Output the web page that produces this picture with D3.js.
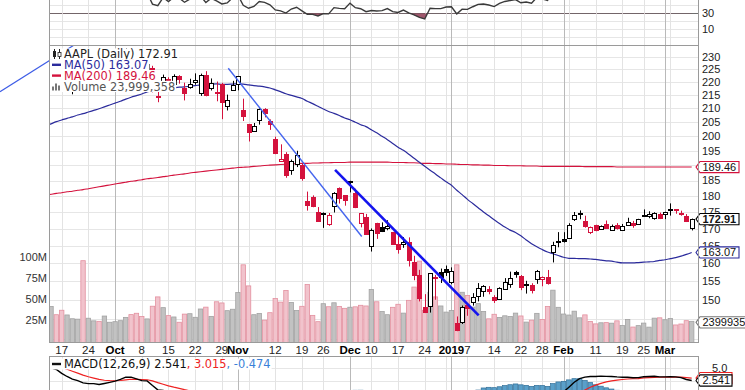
<!DOCTYPE html>
<html><head><meta charset="utf-8">
<script src="https://cdn.jsdelivr.net/npm/d3@7/dist/d3.min.js"></script>
<style>
html,body{margin:0;padding:0;background:#fff;overflow:hidden}
svg{display:block}
</style></head><body>
<svg id="chart" width="745" height="390"></svg>
<script>
// ---------------- DATA ----------------
const dates = [
"2018-09-12","2018-09-13","2018-09-14",
"2018-09-17","2018-09-18","2018-09-19","2018-09-20","2018-09-21",
"2018-09-24","2018-09-25","2018-09-26","2018-09-27","2018-09-28",
"2018-10-01","2018-10-02","2018-10-03","2018-10-04","2018-10-05",
"2018-10-08","2018-10-09","2018-10-10","2018-10-11","2018-10-12",
"2018-10-15","2018-10-16","2018-10-17","2018-10-18","2018-10-19",
"2018-10-22","2018-10-23","2018-10-24","2018-10-25","2018-10-26",
"2018-10-29","2018-10-30","2018-10-31","2018-11-01","2018-11-02",
"2018-11-05","2018-11-06","2018-11-07","2018-11-08","2018-11-09",
"2018-11-12","2018-11-13","2018-11-14","2018-11-15","2018-11-16",
"2018-11-19","2018-11-20","2018-11-21","2018-11-23",
"2018-11-26","2018-11-27","2018-11-28","2018-11-29","2018-11-30",
"2018-12-03","2018-12-04","2018-12-06","2018-12-07",
"2018-12-10","2018-12-11","2018-12-12","2018-12-13","2018-12-14",
"2018-12-17","2018-12-18","2018-12-19","2018-12-20","2018-12-21",
"2018-12-24","2018-12-26","2018-12-27","2018-12-28",
"2018-12-31","2019-01-02","2019-01-03","2019-01-04",
"2019-01-07","2019-01-08","2019-01-09","2019-01-10","2019-01-11",
"2019-01-14","2019-01-15","2019-01-16","2019-01-17","2019-01-18",
"2019-01-22","2019-01-23","2019-01-24","2019-01-25",
"2019-01-28","2019-01-29","2019-01-30","2019-01-31","2019-02-01",
"2019-02-04","2019-02-05","2019-02-06","2019-02-07","2019-02-08",
"2019-02-11","2019-02-12","2019-02-13","2019-02-14","2019-02-15",
"2019-02-19","2019-02-20","2019-02-21","2019-02-22",
"2019-02-25","2019-02-26","2019-02-27","2019-02-28","2019-03-01",
"2019-03-04","2019-03-05","2019-03-06","2019-03-07","2019-03-08"];

const prevClose = 223.85;

const open = [
224.94,223.52,225.75,222.15,217.79,218.50,220.24,220.78,216.82,219.75,
221.00,223.82,224.79,227.95,227.25,230.05,230.78,227.96,222.21,223.64,
225.46,214.52,220.42,221.16,218.93,222.30,217.86,218.06,219.79,215.83,
222.60,217.71,215.90,219.19,211.15,216.88,219.05,209.55,204.30,201.92,
205.97,209.98,205.55,199.00,191.63,193.90,188.39,190.50,190.00,178.37,
179.73,174.94,174.24,171.51,176.73,182.66,180.29,184.46,180.95,171.76,
173.49,165.00,171.66,170.40,170.49,169.00,165.45,165.38,166.00,160.40,
156.86,148.15,148.30,155.84,157.50,158.53,154.89,143.98,144.53,148.70,
149.56,151.29,152.50,152.88,150.85,150.27,153.08,154.20,157.50,156.41,
154.15,154.11,155.48,155.79,156.25,163.25,166.11,166.96,167.41,172.86,
174.65,172.40,168.99,171.05,170.10,171.39,169.71,171.25,169.71,171.19,
171.80,171.58,174.16,173.71,173.21,174.32,174.28,175.69,175.94,174.67,
173.87,170.32];

const high = [
225.00,228.35,226.84,222.95,221.85,219.62,222.28,221.36,221.26,222.82,
223.75,226.44,225.84,229.42,230.00,233.47,232.35,228.41,224.80,227.27,
226.35,219.50,222.88,221.83,222.99,222.64,219.74,221.26,223.36,223.25,
224.23,221.38,220.19,219.69,215.18,220.45,222.36,213.65,204.39,204.72,
210.06,210.12,206.01,199.85,197.18,194.48,191.97,194.97,190.70,181.47,
180.27,176.60,174.95,174.77,181.29,182.80,180.33,184.94,182.39,174.78,
174.49,170.09,171.79,171.92,172.57,169.08,168.35,167.53,167.45,162.11,
158.16,151.55,157.23,156.77,158.52,159.36,158.85,145.72,148.55,148.83,
151.82,154.53,153.97,153.70,151.27,153.39,155.88,157.66,157.88,156.73,
155.14,154.48,158.13,156.33,158.13,166.15,169.00,168.98,171.66,175.08,
175.57,173.94,170.66,171.21,171.00,172.48,171.26,171.70,171.44,173.32,
172.37,173.00,175.87,175.30,175.00,174.91,175.15,177.75,176.00,175.49,
174.44,173.07];

const low = [
219.84,222.57,222.52,217.27,217.12,215.30,219.15,217.29,216.63,219.70,
219.76,223.54,224.02,226.35,226.63,229.78,226.73,220.58,220.20,222.25,
216.05,212.32,216.84,217.27,216.76,219.34,213.00,217.43,218.94,214.70,
214.54,216.75,212.67,206.09,209.27,216.62,216.81,205.43,198.17,201.69,
204.13,206.75,202.25,193.79,191.45,185.93,186.90,189.46,184.99,175.51,
176.55,172.10,170.26,170.88,174.93,177.70,177.03,181.21,176.27,170.42,
168.30,163.33,167.00,169.02,169.55,165.28,162.73,164.39,159.09,155.30,
149.63,146.59,146.72,150.07,154.55,156.48,154.23,142.00,143.80,145.90,
148.52,149.63,150.86,151.51,149.22,150.05,153.00,153.26,155.98,152.62,
151.70,151.74,154.32,153.66,154.11,160.23,164.56,165.93,167.28,172.35,
172.85,170.34,168.42,169.25,169.70,169.92,169.38,169.75,169.49,170.99,
170.30,171.38,173.95,173.17,172.73,172.92,172.89,173.97,174.54,173.94,
172.02,169.50];

const close = [
221.07,226.41,223.84,217.88,218.24,218.37,220.03,217.66,220.79,222.19,
220.42,224.95,225.74,227.26,229.28,232.07,227.99,224.29,223.77,226.87,
216.36,214.45,222.11,217.36,222.15,221.19,216.02,219.31,220.65,222.73,
215.09,219.80,216.30,212.24,213.30,218.86,222.22,207.48,201.59,203.77,
209.95,208.49,204.47,194.17,192.23,186.80,191.41,193.53,185.86,176.98,
176.78,172.29,174.62,174.24,180.94,179.55,178.58,184.82,176.69,174.72,
168.49,169.60,168.63,169.10,170.95,165.48,163.94,166.07,160.89,156.83,
150.73,146.83,157.17,156.15,156.23,157.74,157.92,142.19,148.26,147.93,
150.75,153.31,153.80,152.29,150.00,153.07,154.94,155.86,156.82,153.30,
153.92,152.70,157.76,156.30,154.68,165.25,166.44,166.52,171.25,174.18,
174.24,170.94,170.41,169.43,170.89,170.18,170.80,170.42,170.93,172.03,
171.06,172.97,174.23,174.33,174.87,173.15,174.97,175.85,175.53,174.52,
172.50,172.91];

// volume in millions of shares
const volume = [
49.3,41.7,31.9,37.2,31.6,27.1,26.6,96.2,27.7,24.6,
24.0,30.3,22.9,23.6,24.8,28.7,32.0,33.6,29.7,26.9,
42.0,53.1,40.3,30.8,29.2,22.9,32.6,33.1,28.8,38.7,
40.9,29.9,47.3,45.9,36.7,38.4,58.3,91.3,66.2,31.9,
33.4,25.4,34.3,51.1,46.9,60.8,46.5,36.9,41.9,67.8,
31.1,23.6,45.0,41.4,46.1,41.8,39.5,40.8,41.3,43.1,
42.3,62.0,47.3,35.6,31.9,40.7,44.3,33.8,49.0,64.8,
95.7,37.2,58.6,53.1,42.3,35.0,37.0,91.3,58.6,54.8,
41.0,45.1,35.8,27.0,32.4,28.7,30.6,29.8,33.8,30.4,
23.1,25.4,33.5,26.2,41.6,61.1,40.7,32.7,31.5,36.1,
28.2,31.7,23.8,21.0,22.3,22.5,21.8,24.6,19.0,26.1,
17.2,18.9,21.9,17.1,27.8,28.2,25.9,27.4,19.7,20.8,
24.8,23.999358];

const ma50 = [
203.6,204.4,205.2,205.8,206.4,206.9,207.6,208.1,208.7,209.3,
209.9,210.6,211.3,212.0,212.7,213.5,214.2,214.8,215.4,216.2,
216.7,216.9,217.2,217.4,217.7,218.0,218.1,218.4,218.6,218.9,
219.0,219.2,219.3,219.1,219.1,219.2,219.3,219.2,218.9,218.6,
218.4,218.1,217.7,217.0,216.3,215.5,214.9,214.3,213.7,212.7,
211.8,210.8,209.8,208.9,208.2,207.4,206.5,205.9,205.0,204.1,
203.4,202.3,201.2,200.0,198.8,197.5,196.2,195.1,193.8,192.4,
191.1,189.7,188.4,187.2,185.9,184.6,183.5,181.9,180.5,179.0,
177.7,176.4,175.1,173.9,172.7,171.6,170.5,169.6,168.9,167.9,
166.7,165.6,164.7,163.9,163.2,162.7,162.2,161.7,161.4,161.4,
161.3,161.3,161.2,161.1,160.9,160.7,160.6,160.3,160.1,160.1,
160.1,160.2,160.3,160.4,160.5,160.8,161.0,161.3,161.6,162.0,
162.5,163.07];

const ma200 = [
180.3,180.6,180.9,181.1,181.4,181.6,181.9,182.1,182.4,182.7,
183.0,183.3,183.6,183.9,184.2,184.5,184.8,185.0,185.3,185.6,
185.8,186.0,186.3,186.5,186.8,187.0,187.2,187.5,187.7,187.9,
188.1,188.3,188.5,188.7,188.9,189.1,189.3,189.4,189.5,189.7,
189.8,190.0,190.1,190.2,190.3,190.4,190.5,190.6,190.7,190.7,
190.8,190.8,190.9,190.9,191.0,191.0,191.0,191.1,191.1,191.1,
191.1,191.1,191.1,191.1,191.1,191.0,191.0,191.0,190.9,190.9,
190.8,190.7,190.7,190.6,190.6,190.5,190.5,190.4,190.3,190.3,
190.2,190.2,190.1,190.1,190.0,190.0,190.0,189.9,189.9,189.9,
189.8,189.8,189.8,189.7,189.7,189.7,189.7,189.7,189.7,189.7,
189.7,189.6,189.6,189.6,189.6,189.6,189.6,189.5,189.5,189.5,
189.5,189.5,189.5,189.5,189.5,189.5,189.5,189.5,189.5,189.5,
189.5,189.46];

const rsi14 = [
51.9,59.6,55.0,48.0,48.2,48.4,49.7,47.8,51.2,53.3,
50.3,57.0,58.1,60.1,62.7,66.0,58.0,51.8,50.9,55.5,
41.5,39.5,49.7,44.7,50.2,49.1,43.8,47.7,49.2,51.6,
43.5,48.8,45.4,41.7,43.0,49.4,52.8,40.0,36.3,38.6,
44.7,43.6,40.6,34.2,33.1,30.3,35.3,37.6,33.1,28.8,
28.7,26.7,29.5,29.3,37.1,36.2,35.6,42.7,37.0,35.7,
32.0,33.4,32.8,33.4,35.9,32.0,31.0,34.1,30.5,28.0,
24.8,22.9,36.4,35.8,35.9,37.8,38.1,29.3,35.1,34.9,
38.2,41.1,41.7,40.4,38.4,42.4,44.8,46.0,47.2,43.2,
44.1,42.7,49.9,48.0,46.0,58.5,59.7,59.7,64.3,66.7,
66.8,61.2,60.4,58.7,60.4,59.1,59.9,59.2,59.9,61.6,
59.3,62.3,64.1,64.3,65.1,60.2,63.3,64.8,63.8,60.6,
54.8,55.7];

const macdLine = [
5.07,5.01,4.71,3.94,3.33,2.82,2.51,2.06,1.93,1.92,
1.75,1.96,2.16,2.41,2.75,3.20,3.19,2.86,2.51,2.47,
1.56,0.69,0.60,0.15,0.18,0.12,-0.33,-0.43,-0.39,-0.19,
-0.64,-0.61,-0.86,-1.37,-1.67,-1.44,-0.98,-1.77,-2.85,-3.49,
-3.46,-3.51,-3.83,-4.86,-5.76,-6.84,-7.24,-7.30,-7.87,-8.94,
-9.69,-10.53,-10.88,-11.06,-10.54,-10.12,-9.76,-8.87,-8.60,-8.43,
-8.68,-8.71,-8.70,-8.55,-8.20,-8.26,-8.34,-8.14,-8.30,-8.65,
-9.32,-10.04,-9.68,-9.35,-8.99,-8.49,-7.98,-8.75,-8.76,-8.70,
-8.33,-7.74,-7.15,-6.72,-6.50,-6.00,-5.40,-4.79,-4.18,-3.93,
-3.64,-3.48,-2.91,-2.54,-2.35,-1.34,-0.43,0.29,1.23,2.19,
2.92,3.20,3.34,3.33,3.40,3.36,3.34,3.25,3.19,3.19,
3.08,3.10,3.29,3.33,3.37,3.25,3.25,3.30,3.26,3.10,
2.74,2.541];

const macdSignal = [
5.73,5.59,5.41,5.12,4.76,4.37,4.00,3.61,3.27,3.00,
2.75,2.59,2.51,2.49,2.54,2.67,2.78,2.79,2.74,2.68,
2.46,2.11,1.81,1.48,1.22,1.00,0.73,0.50,0.32,0.22,
0.05,-0.08,-0.24,-0.46,-0.70,-0.85,-0.88,-1.06,-1.42,-1.83,
-2.16,-2.43,-2.71,-3.14,-3.66,-4.30,-4.89,-5.37,-5.87,-6.48,
-7.12,-7.80,-8.42,-8.95,-9.27,-9.44,-9.50,-9.37,-9.22,-9.06,
-8.98,-8.93,-8.88,-8.81,-8.69,-8.60,-8.55,-8.47,-8.44,-8.48,
-8.65,-8.93,-9.08,-9.13,-9.10,-8.98,-8.78,-8.77,-8.77,-8.75,
-8.67,-8.48,-8.22,-7.92,-7.63,-7.31,-6.93,-6.50,-6.04,-5.62,
-5.22,-4.87,-4.48,-4.09,-3.74,-3.26,-2.69,-2.09,-1.43,-0.71,
0.02,0.66,1.20,1.63,1.98,2.26,2.48,2.63,2.74,2.83,
2.88,2.92,3.05,3.10,3.15,3.18,3.20,3.22,3.22,3.20,
3.12,3.015];

const macdHist = [
-0.66,-0.58,-0.70,-1.18,-1.43,-1.55,-1.49,-1.55,-1.34,-1.08,
-1.00,-0.63,-0.35,-0.08,0.21,0.53,0.41,0.07,-0.23,-0.21,
-0.90,-1.42,-1.21,-1.33,-1.04,-0.88,-1.06,-0.93,-0.71,-0.41,
-0.69,-0.53,-0.62,-0.91,-0.97,-0.59,-0.10,-0.71,-1.43,-1.66,
-1.30,-1.08,-1.12,-1.72,-2.10,-2.54,-2.35,-1.93,-2.00,-2.46,
-2.57,-2.73,-2.46,-2.11,-1.27,-0.68,-0.26,0.50,0.62,0.63,
0.30,0.22,0.18,0.26,0.49,0.34,0.21,0.33,0.14,-0.17,
-0.67,-1.11,-0.60,-0.22,0.11,0.49,0.55,0.02,0.01,0.05,
0.34,0.66,1.07,1.20,1.13,1.31,1.53,1.71,1.86,1.69,
1.58,1.39,1.57,1.55,1.39,1.92,2.26,2.38,2.66,2.90,
2.90,2.54,2.14,1.70,1.42,1.10,0.86,0.62,0.45,0.36,
0.20,0.18,0.24,0.23,0.22,0.07,0.05,0.08,0.04,-0.10,
-0.38,-0.474];

// drawn trend lines: [dateIndex, price] end points
const trendA = [[-8.56, 216.3], [6.43, 236.3]];
const trendB = [[34.2, 225.4], [59.2, 167.7]];
const trendC = [[54.2, 188.5], [81.1, 146.0]];

// axis ticks / labels
const tickDates = ["2018-09-17","2018-09-24","2018-10-01","2018-10-08","2018-10-15","2018-10-22","2018-10-29","2018-11-01","2018-11-12","2018-11-19","2018-11-26","2018-12-03","2018-12-10","2018-12-17","2018-12-24","2019-01-02","2019-01-07","2019-01-14","2019-01-22","2019-01-28","2019-02-01","2019-02-11","2019-02-19","2019-02-25","2019-03-01"];
const tickLabels = ["17","24","Oct","8","15","22","29","Nov","12","19","26","Dec","10","17","24","2019","7","14","22","28","Feb","11","19","25","Mar"];
const tickMajor = [0,0,1,0,0,0,0,1,0,0,0,1,0,0,0,1,0,0,0,0,1,0,0,0,1];
const priceTicks = [150,155,160,165,170,175,180,185,195,200,205,210,215,220,225,230];
const priceGrid = [140,145,150,155,160,165,170,175,180,185,190,195,200,205,210,215,220,225,230];
const volTicks = [25,50,75,100];
const volTickLabels = ["25M","50M","75M","100M"];
const rsiGrid = [0,10,20,30,40,50];
const rsiTicks = [10,30];
const macdTicks = [5.0];
const macdGrid = [2.5,5.0];

// ---------------- DRAW ----------------
const svg = d3.select('#chart');
const SANS = '"Liberation Sans", Arial, sans-serif';
const VERD = '"DejaVu Sans", Verdana, sans-serif';
const RED = '#d4123d';
const NAVY = '#2b2b9c';
const plotL = 49.5, plotR = 698.5;
const mainTop = 45.5, mainBot = 342.5, macdTop = 356.5;
const n = close.length;

const x = d3.scaleLinear().domain([0, n - 1]).range([45.68, 691.7]);
const yP = d3.scaleLog().domain([150, 230]).range([300, 56.7]);
const yV = d3.scaleLinear().domain([0, 100]).range([341.5, 257.5]);
const yR = d3.scaleLinear().domain([0, 100]).range([37.3, -42.7]);
const yM = d3.scaleLinear().domain([0, 5]).range([393.4, 368]);

svg.append('rect').attr('width', 745).attr('height', 390).attr('fill', '#fff');
const defs = svg.append('defs');
function clip(id, x0, y0, x1, y1) {
  defs.append('clipPath').attr('id', id).append('rect')
    .attr('x', x0).attr('y', y0).attr('width', x1 - x0).attr('height', y1 - y0);
}
clip('cMain', plotL, mainTop, plotR, mainBot);
clip('cRsi', plotL, -100, plotR, mainTop);
clip('cRsiLow', plotL, yR(30), plotR, mainTop);
clip('cMacd', plotL, macdTop, plotR, 440);
clip('cTrend', 0, mainTop, plotR, mainBot);

const parse = d3.timeParse('%Y-%m-%d');
const dt = dates.map(parse);
const weekStarts = [], monthStarts = [];
for (let i = 1; i < n; i++) {
  const a = dt[i - 1], b = dt[i];
  if (b.getDay() < a.getDay() || (b - a) > 6 * 864e5) weekStarts.push(i);
  if (b.getMonth() !== a.getMonth()) monthStarts.push(i);
}
const px = i => Math.round(x(i)) + 0.5;

function vgrid(y0, y1) {
  const g = svg.append('g');
  g.append('g').selectAll('line').data(weekStarts).join('line')
    .attr('x1', px).attr('x2', px).attr('y1', y0).attr('y2', y1)
    .attr('stroke', '#e3e3e3').attr('stroke-width', 1);
  g.append('g').selectAll('line').data(monthStarts).join('line')
    .attr('x1', px).attr('x2', px).attr('y1', y0).attr('y2', y1)
    .attr('stroke', '#b9b9b9').attr('stroke-width', 1);
}
function hgrid(vals, scale, y0, y1, color) {
  svg.append('g').selectAll('line').data(vals.filter(v => scale(v) >= y0 && scale(v) <= y1)).join('line')
    .attr('x1', plotL).attr('x2', plotR)
    .attr('y1', v => Math.round(scale(v)) + 0.5).attr('y2', v => Math.round(scale(v)) + 0.5)
    .attr('stroke', typeof color === 'function' ? color : () => color).attr('stroke-width', 1);
}

// ---- RSI panel (only its lower part is in view)
hgrid(rsiGrid, yR, 0, mainTop, v => v === 30 ? '#6e6e6e' : '#e6e6e6');
vgrid(0, mainTop);
const rsiG = svg.append('g').attr('clip-path', 'url(#cRsi)');
rsiG.append('g').attr('clip-path', 'url(#cRsiLow)').append('path')
  .datum(rsi14)
  .attr('d', d3.area().x((d, i) => x(i)).y0(yR(30)).y1(d => yR(d)))
  .attr('fill', '#8e3a52').attr('opacity', 0.85);
rsiG.append('path').datum(rsi14)
  .attr('d', d3.line().x((d, i) => x(i)).y(d => yR(d)))
  .attr('fill', 'none').attr('stroke', '#3a3a3a').attr('stroke-width', 1.4);
svg.append('g').selectAll('text').data(rsiTicks).join('text')
  .attr('x', 702).attr('y', d => yR(d)).attr('dy', '0.35em')
  .attr('font-family', SANS).attr('font-size', 11).attr('fill', '#222')
  .text(d => d);

// ---- Main panel
hgrid(priceGrid, yP, mainTop, mainBot, '#e6e6e6');
vgrid(mainTop, mainBot);

const mainG = svg.append('g').attr('clip-path', 'url(#cMain)');
const isUp = i => close[i] >= (i > 0 ? close[i - 1] : prevClose);

// volume
mainG.append('g').selectAll('rect').data(d3.range(n)).join('rect')
  .attr('x', i => x(i) - 2.2).attr('width', 4.4)
  .attr('y', i => yV(volume[i])).attr('height', i => yV(0) - yV(volume[i]) + 2)
  .attr('fill', i => isUp(i) ? '#c2c2c2' : '#f1c3cc')
  .attr('stroke', i => isUp(i) ? '#a2a2a2' : '#e3909f').attr('stroke-width', 0.8);

// moving averages
mainG.append('path').datum(ma200)
  .attr('d', d3.line().x((d, i) => x(i)).y(d => yP(d)).curve(d3.curveMonotoneX))
  .attr('fill', 'none').attr('stroke', RED).attr('stroke-width', 1.1);
mainG.append('path').datum(ma50)
  .attr('d', d3.line().x((d, i) => x(i)).y(d => yP(d)).curve(d3.curveMonotoneX))
  .attr('fill', 'none').attr('stroke', NAVY).attr('stroke-width', 1.2);

// candles
const cg = mainG.append('g');
const idx = d3.range(n);
cg.selectAll('line').data(idx).join('line')
  .attr('x1', px).attr('x2', px)
  .attr('y1', i => yP(high[i])).attr('y2', i => yP(low[i]))
  .attr('stroke', i => isUp(i) ? '#000' : RED).attr('stroke-width', 1);
cg.selectAll('rect').data(idx).join('rect')
  .attr('x', i => Math.round(x(i)) - 1.5).attr('width', 4)
  .attr('y', i => Math.round(Math.min(yP(open[i]), yP(close[i]))) + 0.5)
  .attr('height', i => Math.max(1, Math.round(Math.abs(yP(open[i]) - yP(close[i])))))
  .attr('fill', i => close[i] > open[i] ? '#fff' : (isUp(i) ? '#000' : RED))
  .attr('stroke', i => isUp(i) ? '#000' : RED).attr('stroke-width', 1);

// trend lines
const tg = svg.append('g').attr('clip-path', 'url(#cTrend)');
const tline = d3.line().x(d => x(d[0])).y(d => yP(d[1]));
tg.append('path').datum(trendA).attr('d', tline).attr('stroke', '#3d5ce6').attr('stroke-width', 1.2).attr('fill', 'none');
tg.append('path').datum(trendB).attr('d', tline).attr('stroke', '#4565ee').attr('stroke-width', 1.4).attr('fill', 'none');
tg.append('path').datum(trendC).attr('d', tline).attr('stroke', '#1414ee').attr('stroke-width', 2.6).attr('fill', 'none');

// price axis labels (right)
svg.append('g').selectAll('text').data(priceTicks).join('text')
  .attr('x', 702).attr('y', d => yP(d)).attr('dy', '0.35em')
  .attr('font-family', SANS).attr('font-size', 11).attr('fill', '#222')
  .text(d => d);
// volume axis labels (left)
svg.append('g').selectAll('text').data(volTicks).join('text')
  .attr('x', 47).attr('y', d => yV(d)).attr('dy', '0.35em').attr('text-anchor', 'end')
  .attr('font-family', SANS).attr('font-size', 11).attr('fill', '#333')
  .text((d, k) => volTickLabels[k]);

// legend
const legend = svg.append('g');
const legItems = [
  { t: 'AAPL (Daily) ' + close[n - 1].toFixed(2), c: '#222', y: 54 },
  { t: 'MA(50) ' + ma50[n - 1].toFixed(2), c: NAVY, y: 64.8 },
  { t: 'MA(200) ' + ma200[n - 1].toFixed(2), c: RED, y: 75.6 },
  { t: 'Volume ' + d3.format(',')(Math.round(volume[n - 1] * 1e6)), c: '#555', y: 86.4 }
];
legItems.forEach((it) => {
  const bg = legend.append('rect').attr('fill', '#fff');
  const tx = legend.append('text').attr('x', 64).attr('y', it.y).attr('dy', '0.36em')
    .attr('font-family', VERD).attr('font-size', 11.4).attr('fill', it.c).text(it.t);
  const w = tx.node().getComputedTextLength();
  bg.attr('x', 50).attr('y', it.y - 5.6).attr('width', 64 + w - 50 + 1).attr('height', 11.2);
});
// legend swatches
const sw = legend.append('g');
sw.append('line').attr('x1', 54.5).attr('x2', 54.5).attr('y1', 49).attr('y2', 59).attr('stroke', '#222');
sw.append('rect').attr('x', 53).attr('y', 51).attr('width', 3).attr('height', 6).attr('fill', '#222');
sw.append('line').attr('x1', 59.5).attr('x2', 59.5).attr('y1', 49).attr('y2', 59).attr('stroke', '#222');
sw.append('rect').attr('x', 58).attr('y', 52.5).attr('width', 3).attr('height', 4).attr('fill', '#fff').attr('stroke', '#222').attr('stroke-width', 0.8);
sw.append('line').attr('x1', 52).attr('x2', 61).attr('y1', 64.8).attr('y2', 64.8).attr('stroke', NAVY).attr('stroke-width', 2.4);
sw.append('line').attr('x1', 52).attr('x2', 61).attr('y1', 75.6).attr('y2', 75.6).attr('stroke', RED).attr('stroke-width', 2.4);
[[52, 4], [55, 7], [58, 5]].forEach(b => sw.append('rect').attr('x', b[0]).attr('y', 90.5 - b[1]).attr('width', 2).attr('height', b[1]).attr('fill', '#777'));

// value tags on right
function tag(yc, text, stroke, bold, x1) {
  const g = svg.append('g');
  const h = 5.6, x0 = 696, xb = 700;
  g.append('path').attr('d', `M${x0},${yc} L${xb},${yc - h} L${x1},${yc - h} L${x1},${yc + h} L${xb},${yc + h} Z`)
    .attr('fill', '#fff').attr('stroke', stroke).attr('stroke-width', 1.1);
  if (text) g.append('text').attr('x', 702.5).attr('y', yc).attr('dy', '0.36em')
    .attr('font-family', SANS).attr('font-size', 11).attr('font-weight', bold ? 'bold' : 'normal')
    .attr('fill', '#111').text(text);
}
tag(yP(ma200[n - 1]), ma200[n - 1].toFixed(2), RED, false, 739);
tag(yP(ma50[n - 1]), ma50[n - 1].toFixed(2), NAVY, false, 739);
tag(yP(close[n - 1]), close[n - 1].toFixed(2), '#000', true, 739);
tag(yV(volume[n - 1]) + 1, String(Math.round(volume[n - 1] * 1e6)).slice(0, 7), '#777', false, 760);

// ---- date axis
svg.append('g').selectAll('text').data(tickDates).join('text')
  .attr('x', d => x(dates.indexOf(d))).attr('y', 354)
  .attr('text-anchor', 'middle')
  .attr('font-family', SANS).attr('font-size', 11.5)
  .attr('font-weight', (d, k) => tickMajor[k] ? 'bold' : 'normal')
  .attr('fill', (d, k) => tickMajor[k] ? '#000' : '#222')
  .text((d, k) => tickLabels[k]);

// ---- MACD panel
hgrid(macdGrid, yM, macdTop, 390, '#e6e6e6');
vgrid(macdTop, 390);
const mg = svg.append('g').attr('clip-path', 'url(#cMacd)');
mg.append('g').selectAll('rect').data(idx.filter(i => macdHist[i] > 0)).join('rect')
  .attr('x', i => x(i) - 2.3).attr('width', 4.6)
  .attr('y', i => yM(macdHist[i])).attr('height', i => yM(0) - yM(macdHist[i]))
  .attr('fill', '#5a9fc9').attr('stroke', '#2f6e98').attr('stroke-width', 0.7);
mg.append('path').datum(macdSignal)
  .attr('d', d3.line().x((d, i) => x(i)).y(d => yM(d)))
  .attr('fill', 'none').attr('stroke', '#ee2222').attr('stroke-width', 1.2);
mg.append('path').datum(macdLine)
  .attr('d', d3.line().x((d, i) => x(i)).y(d => yM(d)))
  .attr('fill', 'none').attr('stroke', '#000').attr('stroke-width', 1.4);

// macd legend
const ml = svg.append('g');
const mlBg = ml.append('rect').attr('fill', '#fff');
const mlt = ml.append('text').attr('x', 64).attr('y', 364).attr('dy', '0.36em')
  .attr('font-family', VERD).attr('font-size', 11.4);
mlt.append('tspan').attr('fill', '#111').text('MACD(12,26,9) ' + macdLine[n - 1].toFixed(3));
mlt.append('tspan').attr('fill', '#ee2222').text(', ' + macdSignal[n - 1].toFixed(3));
mlt.append('tspan').attr('fill', '#3a7fd8').text(', ' + macdHist[n - 1].toFixed(3));
mlBg.attr('x', 50).attr('y', 358.5).attr('width', 14 + mlt.node().getComputedTextLength() + 1).attr('height', 11);
ml.append('line').attr('x1', 52).attr('x2', 61).attr('y1', 364).attr('y2', 364).attr('stroke', '#111').attr('stroke-width', 2.4);

svg.append('g').selectAll('text').data(macdTicks).join('text')
  .attr('x', 712).attr('y', d => yM(d)).attr('dy', '0.35em')
  .attr('font-family', SANS).attr('font-size', 11).attr('fill', '#222')
  .text(d => d.toFixed(1));
function mtag(yc, text, stroke) {
  const g = svg.append('g'); const h = 5.6;
  g.append('path').attr('d', `M696,${yc} L700,${yc - h} L732,${yc - h} L732,${yc + h} L700,${yc + h} Z`)
    .attr('fill', '#fff').attr('stroke', stroke).attr('stroke-width', 1.1);
  if (text) g.append('text').attr('x', 702.5).attr('y', yc).attr('dy', '0.36em')
    .attr('font-family', SANS).attr('font-size', 11).attr('fill', '#111').text(text);
}
mtag(yM(macdSignal[n - 1]), '', '#ee2222');
mtag(yM(macdLine[n - 1]), macdLine[n - 1].toFixed(3), '#000');

// ---- panel borders
const bd = svg.append('g').attr('fill', 'none').attr('stroke', '#9a9a9a').attr('stroke-width', 1);
bd.append('rect').attr('x', plotL).attr('y', -10).attr('width', plotR - plotL).attr('height', mainTop + 10);
bd.append('rect').attr('x', plotL).attr('y', mainTop).attr('width', plotR - plotL).attr('height', mainBot - mainTop);
bd.append('rect').attr('x', plotL).attr('y', macdTop).attr('width', plotR - plotL).attr('height', 60);
</script>
</body></html>
